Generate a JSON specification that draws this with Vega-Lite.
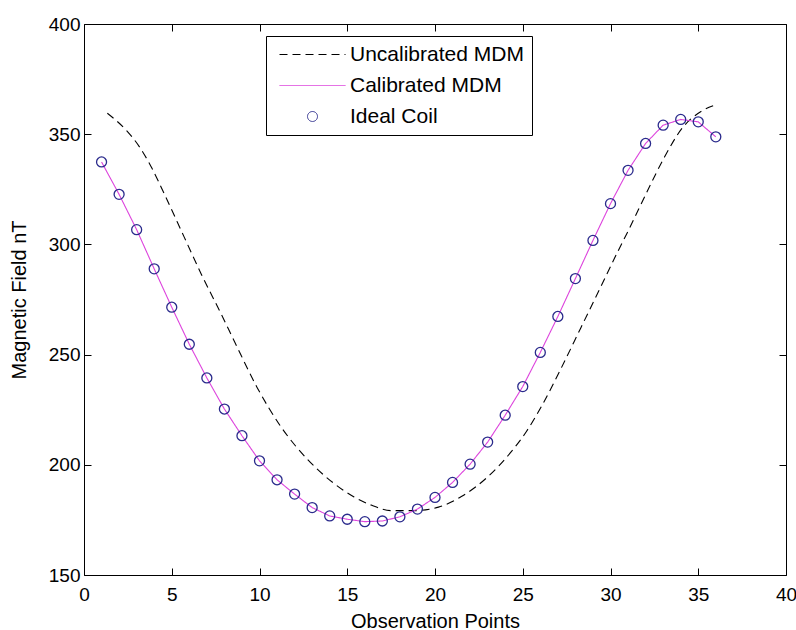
{
  "$schema": "https://vega.github.io/schema/vega-lite/v6.json",
  "width": 702,
  "height": 551,
  "autosize": {"type": "none"},
  "padding": {"left": 84, "top": 24, "right": 10, "bottom": 55},
  "background": "white",
  "config": {
    "font": "Liberation Sans",
    "view": {"stroke": "black", "strokeWidth": 1},
    "axis": {
      "grid": false,
      "domain": false,
      "tickColor": "black",
      "tickSize": -7,
      "tickWidth": 1,
      "labelFont": "Liberation Sans",
      "labelFontSize": 19,
      "labelColor": "black",
      "titleFont": "Liberation Sans",
      "titleFontSize": 20,
      "titleFontWeight": "normal",
      "titleColor": "black"
    },
    "legend": {
      "orient": "none",
      "legendX": 182,
      "legendY": 12,
      "strokeColor": "black",
      "fillColor": "white",
      "padding": 8,
      "cornerRadius": 0,
      "labelFont": "Liberation Sans",
      "labelFontSize": 21,
      "labelColor": "black",
      "labelLimit": 400,
      "symbolSize": 100,
      "symbolStrokeWidth": 1,
      "rowPadding": 9,
      "symbolOffset": 28,
      "labelOffset": 27
    }
  },
  "data": {
    "values": [
      {"series": "Uncalibrated MDM", "obs": 1.33, "field": 359.5},
      {"series": "Uncalibrated MDM", "obs": 2.38, "field": 352.0},
      {"series": "Uncalibrated MDM", "obs": 3.14, "field": 344.5},
      {"series": "Uncalibrated MDM", "obs": 3.81, "field": 335.5},
      {"series": "Uncalibrated MDM", "obs": 4.57, "field": 323.0},
      {"series": "Uncalibrated MDM", "obs": 5.71, "field": 303.3},
      {"series": "Uncalibrated MDM", "obs": 6.67, "field": 286.7},
      {"series": "Uncalibrated MDM", "obs": 7.81, "field": 268.5},
      {"series": "Uncalibrated MDM", "obs": 8.6, "field": 255.5},
      {"series": "Uncalibrated MDM", "obs": 9.87, "field": 235.0},
      {"series": "Uncalibrated MDM", "obs": 11.2, "field": 217.5},
      {"series": "Uncalibrated MDM", "obs": 12.73, "field": 202.5},
      {"series": "Uncalibrated MDM", "obs": 14.25, "field": 191.5},
      {"series": "Uncalibrated MDM", "obs": 15.39, "field": 185.4},
      {"series": "Uncalibrated MDM", "obs": 16.4, "field": 181.6},
      {"series": "Uncalibrated MDM", "obs": 17.5, "field": 179.2},
      {"series": "Uncalibrated MDM", "obs": 18.8, "field": 179.2},
      {"series": "Uncalibrated MDM", "obs": 20.2, "field": 180.8},
      {"series": "Uncalibrated MDM", "obs": 21.5, "field": 185.6},
      {"series": "Uncalibrated MDM", "obs": 23.0, "field": 194.5},
      {"series": "Uncalibrated MDM", "obs": 24.3, "field": 205.5},
      {"series": "Uncalibrated MDM", "obs": 25.2, "field": 215.0},
      {"series": "Uncalibrated MDM", "obs": 26.1, "field": 227.0},
      {"series": "Uncalibrated MDM", "obs": 27.2, "field": 244.0},
      {"series": "Uncalibrated MDM", "obs": 28.3, "field": 262.0},
      {"series": "Uncalibrated MDM", "obs": 29.4, "field": 280.0},
      {"series": "Uncalibrated MDM", "obs": 30.4, "field": 296.5},
      {"series": "Uncalibrated MDM", "obs": 31.0, "field": 306.0},
      {"series": "Uncalibrated MDM", "obs": 32.15, "field": 325.0},
      {"series": "Uncalibrated MDM", "obs": 33.1, "field": 340.0},
      {"series": "Uncalibrated MDM", "obs": 34.06, "field": 352.5},
      {"series": "Uncalibrated MDM", "obs": 35.2, "field": 360.5},
      {"series": "Uncalibrated MDM", "obs": 35.96, "field": 363.2},
      {"series": "Calibrated MDM", "obs": 1, "field": 337.4},
      {"series": "Calibrated MDM", "obs": 2, "field": 322.7},
      {"series": "Calibrated MDM", "obs": 3, "field": 306.7},
      {"series": "Calibrated MDM", "obs": 4, "field": 288.9},
      {"series": "Calibrated MDM", "obs": 5, "field": 271.5},
      {"series": "Calibrated MDM", "obs": 6, "field": 254.7},
      {"series": "Calibrated MDM", "obs": 7, "field": 239.4},
      {"series": "Calibrated MDM", "obs": 8, "field": 225.3},
      {"series": "Calibrated MDM", "obs": 9, "field": 213.2},
      {"series": "Calibrated MDM", "obs": 10, "field": 201.8},
      {"series": "Calibrated MDM", "obs": 11, "field": 193.2},
      {"series": "Calibrated MDM", "obs": 12, "field": 186.7},
      {"series": "Calibrated MDM", "obs": 13, "field": 180.6},
      {"series": "Calibrated MDM", "obs": 14, "field": 176.8},
      {"series": "Calibrated MDM", "obs": 15, "field": 175.3},
      {"series": "Calibrated MDM", "obs": 16, "field": 174.2},
      {"series": "Calibrated MDM", "obs": 17, "field": 174.5},
      {"series": "Calibrated MDM", "obs": 18, "field": 176.4},
      {"series": "Calibrated MDM", "obs": 19, "field": 179.9},
      {"series": "Calibrated MDM", "obs": 20, "field": 185.2},
      {"series": "Calibrated MDM", "obs": 21, "field": 192.0},
      {"series": "Calibrated MDM", "obs": 22, "field": 200.3},
      {"series": "Calibrated MDM", "obs": 23, "field": 210.3},
      {"series": "Calibrated MDM", "obs": 24, "field": 222.5},
      {"series": "Calibrated MDM", "obs": 25, "field": 235.5},
      {"series": "Calibrated MDM", "obs": 26, "field": 251.0},
      {"series": "Calibrated MDM", "obs": 27, "field": 267.3},
      {"series": "Calibrated MDM", "obs": 28, "field": 284.5},
      {"series": "Calibrated MDM", "obs": 29, "field": 301.8},
      {"series": "Calibrated MDM", "obs": 30, "field": 318.5},
      {"series": "Calibrated MDM", "obs": 31, "field": 333.6},
      {"series": "Calibrated MDM", "obs": 32, "field": 345.8},
      {"series": "Calibrated MDM", "obs": 33, "field": 354.1},
      {"series": "Calibrated MDM", "obs": 34, "field": 356.7},
      {"series": "Calibrated MDM", "obs": 35, "field": 355.6},
      {"series": "Calibrated MDM", "obs": 36, "field": 348.8},
      {"series": "Ideal Coil", "obs": 1, "field": 337.4},
      {"series": "Ideal Coil", "obs": 2, "field": 322.7},
      {"series": "Ideal Coil", "obs": 3, "field": 306.7},
      {"series": "Ideal Coil", "obs": 4, "field": 288.9},
      {"series": "Ideal Coil", "obs": 5, "field": 271.5},
      {"series": "Ideal Coil", "obs": 6, "field": 254.7},
      {"series": "Ideal Coil", "obs": 7, "field": 239.4},
      {"series": "Ideal Coil", "obs": 8, "field": 225.3},
      {"series": "Ideal Coil", "obs": 9, "field": 213.2},
      {"series": "Ideal Coil", "obs": 10, "field": 201.8},
      {"series": "Ideal Coil", "obs": 11, "field": 193.2},
      {"series": "Ideal Coil", "obs": 12, "field": 186.7},
      {"series": "Ideal Coil", "obs": 13, "field": 180.6},
      {"series": "Ideal Coil", "obs": 14, "field": 176.8},
      {"series": "Ideal Coil", "obs": 15, "field": 175.3},
      {"series": "Ideal Coil", "obs": 16, "field": 174.2},
      {"series": "Ideal Coil", "obs": 17, "field": 174.5},
      {"series": "Ideal Coil", "obs": 18, "field": 176.4},
      {"series": "Ideal Coil", "obs": 19, "field": 179.9},
      {"series": "Ideal Coil", "obs": 20, "field": 185.2},
      {"series": "Ideal Coil", "obs": 21, "field": 192.0},
      {"series": "Ideal Coil", "obs": 22, "field": 200.3},
      {"series": "Ideal Coil", "obs": 23, "field": 210.3},
      {"series": "Ideal Coil", "obs": 24, "field": 222.5},
      {"series": "Ideal Coil", "obs": 25, "field": 235.5},
      {"series": "Ideal Coil", "obs": 26, "field": 251.0},
      {"series": "Ideal Coil", "obs": 27, "field": 267.3},
      {"series": "Ideal Coil", "obs": 28, "field": 284.5},
      {"series": "Ideal Coil", "obs": 29, "field": 301.8},
      {"series": "Ideal Coil", "obs": 30, "field": 318.5},
      {"series": "Ideal Coil", "obs": 31, "field": 333.6},
      {"series": "Ideal Coil", "obs": 32, "field": 345.8},
      {"series": "Ideal Coil", "obs": 33, "field": 354.1},
      {"series": "Ideal Coil", "obs": 34, "field": 356.7},
      {"series": "Ideal Coil", "obs": 35, "field": 355.6},
      {"series": "Ideal Coil", "obs": 36, "field": 348.8}
    ]
  },
  "layer": [
    {
      "transform": [{"filter": "datum.series === 'Uncalibrated MDM'"}],
      "mark": {"type": "line", "strokeWidth": 1.1, "interpolate": "monotone"},
      "encoding": {
        "x": {"field": "obs", "type": "quantitative",
              "scale": {"domain": [0, 40], "nice": false, "zero": false},
              "axis": {"orient": "bottom", "values": [0, 5, 10, 15, 20, 25, 30, 35, 40], "title": "Observation Points", "labelPadding": 17, "titlePadding": 7, "labelFlush": false}},
        "y": {"field": "field", "type": "quantitative",
              "scale": {"domain": [150, 400], "nice": false, "zero": false},
              "axis": {"orient": "left", "values": [150, 200, 250, 300, 350, 400], "title": "Magnetic Field nT", "labelPadding": 11, "titlePadding": 19, "labelFlush": false}},
        "color": {"field": "series", "type": "nominal",
                  "scale": {"domain": ["Uncalibrated MDM", "Calibrated MDM", "Ideal Coil"], "range": ["#000000", "#dd44dd", "#2a2a8c"]},
                  "legend": {"title": null}},
        "strokeDash": {"field": "series", "type": "nominal",
                  "scale": {"domain": ["Uncalibrated MDM", "Calibrated MDM", "Ideal Coil"], "range": [[8, 5], [1, 0], [1, 0]]},
                  "legend": {"title": null}}
      }
    },
    {
      "transform": [{"filter": "datum.series === 'Calibrated MDM'"}],
      "mark": {"type": "line", "strokeWidth": 1.1},
      "encoding": {
        "x": {"field": "obs", "type": "quantitative",
              "axis": {"orient": "top", "values": [0, 5, 10, 15, 20, 25, 30, 35, 40], "labels": false, "title": null}},
        "y": {"field": "field", "type": "quantitative",
              "axis": {"orient": "right", "values": [150, 200, 250, 300, 350, 400], "labels": false, "title": null}},
        "color": {"field": "series", "type": "nominal", "legend": {"title": null}},
        "strokeDash": {"field": "series", "type": "nominal", "legend": {"title": null}}
      }
    },
    {
      "transform": [{"filter": "datum.series === 'Ideal Coil'"}],
      "mark": {"type": "point", "filled": false, "size": 100, "strokeWidth": 1.3, "opacity": 1},
      "encoding": {
        "x": {"field": "obs", "type": "quantitative", "axis": null},
        "y": {"field": "field", "type": "quantitative", "axis": null},
        "color": {"field": "series", "type": "nominal", "legend": {"title": null}},
        "shape": {"field": "series", "type": "nominal",
                  "scale": {"domain": ["Uncalibrated MDM", "Calibrated MDM", "Ideal Coil"], "range": ["M-6.6,0H6.6", "M-6.6,0H6.6", "circle"]},
                  "legend": {"title": null}}
      }
    }
  ],
  "resolve": {"axis": {"x": "independent", "y": "independent"}}
}
